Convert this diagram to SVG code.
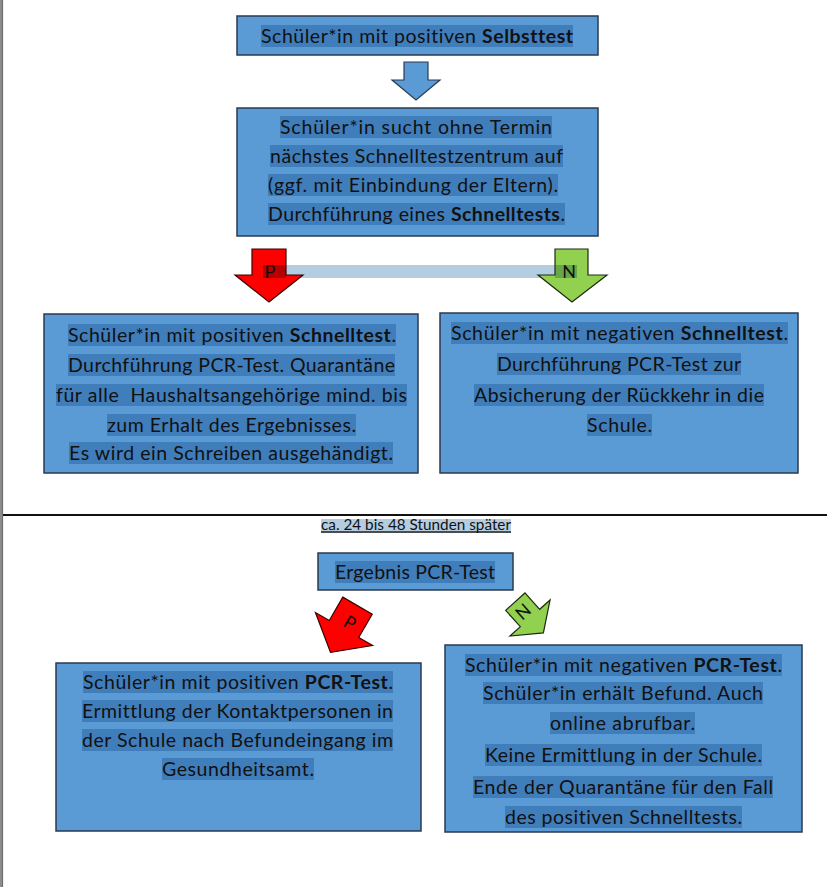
<svg xmlns="http://www.w3.org/2000/svg" width="827" height="887" viewBox="0 0 827 887">
<style>
  .box { fill: #5b9bd5; stroke: #2b3a4f; stroke-width: 1.5; }
  .hl { fill: #407dbb; }
  .t { font-family: Lato, "Open Sans", sans-serif; font-size: 19.5px; fill: #111111; text-anchor: middle; font-variant-ligatures: none; }
  .b { font-weight: bold; }
  .lbl { font-family: Lato, "Open Sans", sans-serif; font-size: 18px; fill: #111111; text-anchor: middle; }
</style>
<rect x="0" y="0" width="827" height="887" fill="#ffffff"/>
<!-- page edge and divider -->
<rect x="0" y="0" width="2" height="887" fill="#8c8c8c"/>
<line x1="2.6" y1="0" x2="2.6" y2="887" stroke="#333333" stroke-width="0.8"/>
<line x1="3" y1="515" x2="827" y2="515" stroke="#111111" stroke-width="2"/>

<g id="connectors">
  <!-- blue down arrow -->
  <polygon points="404,62 428,62 428,80 440,80 416,100 392,80 404,80" fill="#5b9bd5" stroke="#2b3a4f" stroke-width="1.2"/>
  <!-- light bar between P and N -->
  <rect x="286" y="265" width="269" height="13" fill="#b4cde0"/>
  <!-- P arrow (red) -->
  <polygon points="252,249 286,249 286,275 303,275 269,302 235,275 252,275" fill="#ff0000"/>
  <rect x="263" y="265" width="23" height="13" fill="#b40000"/>
  <polygon points="252,249 286,249 286,275 303,275 269,302 235,275 252,275" fill="none" stroke="#3a0000" stroke-width="1.2"/>
  <text class="lbl" x="270" y="278">P</text>
  <!-- N arrow (green) -->
  <polygon points="555,249 588,249 588,275 607,275 572,302 538,275 555,275" fill="#92d050"/>
  <rect x="555" y="265" width="22" height="13" fill="#67a746"/>
  <polygon points="555,249 588,249 588,275 607,275 572,302 538,275 555,275" fill="none" stroke="#1e2a10" stroke-width="1.2"/>
  <text class="lbl" x="569" y="278">N</text>
  <!-- rotated P arrow -->
  <g transform="translate(344,629) rotate(30)">
    <polygon points="-17,-27 17,-27 17,0 33,0 0,27 -33,0 -17,0" fill="#ff0000" stroke="#3a0000" stroke-width="1.2"/>
    <text class="lbl" x="2" y="-2" font-size="16">P</text>
  </g>
  <!-- rotated N arrow -->
  <g transform="translate(530,618) rotate(-42)">
    <polygon points="-13,-22 13,-22 13,0 27,0 0,20 -27,0 -13,0" fill="#92d050" stroke="#1e2a10" stroke-width="1.2"/>
    <text class="lbl" x="-1" y="-3" font-size="15">N</text>
  </g>
</g>

<g id="n1">
  <rect class="box" x="237" y="16" width="361" height="39"/>
  <rect class="hl" x="261" y="25" width="312" height="22"/>
  <text class="t" x="417" y="43" textLength="312">Schüler*in mit positiven <tspan class="b">Selbsttest</tspan></text>
</g>

<g id="n2">
  <rect class="box" x="237" y="108" width="361" height="128"/>
  <rect class="hl" x="280" y="116" width="272" height="22"/>
  <text class="t" x="416" y="134" textLength="272">Schüler*in sucht ohne Termin</text>
  <rect class="hl" x="270" y="145" width="293" height="22"/>
  <text class="t" x="416.5" y="163" textLength="293">nächstes Schnelltestzentrum auf</text>
  <rect class="hl" x="268" y="174" width="290" height="22"/>
  <text class="t" x="413" y="192" textLength="290">(ggf. mit Einbindung der Eltern).</text>
  <rect class="hl" x="268" y="203" width="297" height="22"/>
  <text class="t" x="416.5" y="221" textLength="297">Durchführung eines <tspan class="b">Schnelltests</tspan>.</text>
</g>

<g id="n3">
  <rect class="box" x="44" y="314" width="374" height="159"/>
  <rect class="hl" x="68" y="324" width="328" height="22"/>
  <text class="t" x="232" y="342" textLength="328">Schüler*in mit positiven <tspan class="b">Schnelltest</tspan>.</text>
  <rect class="hl" x="68" y="354" width="327" height="22"/>
  <text class="t" x="231.5" y="372" textLength="327">Durchführung PCR-Test. Quarantäne</text>
  <rect class="hl" x="56" y="384" width="351" height="22"/>
  <text class="t" x="231.5" y="402" textLength="351" xml:space="preserve">für alle  Haushaltsangehörige mind. bis</text>
  <rect class="hl" x="107" y="414" width="249" height="22"/>
  <text class="t" x="231.5" y="432" textLength="249">zum Erhalt des Ergebnisses.</text>
  <rect class="hl" x="69" y="442" width="324" height="22"/>
  <text class="t" x="231" y="460" textLength="324">Es wird ein Schreiben ausgehändigt.</text>
</g>

<g id="n4">
  <rect class="box" x="440" y="313" width="358" height="160"/>
  <rect class="hl" x="451" y="322" width="337" height="22"/>
  <text class="t" x="619.5" y="340" textLength="337">Schüler*in mit negativen <tspan class="b">Schnelltest</tspan>.</text>
  <rect class="hl" x="497" y="353" width="244" height="22"/>
  <text class="t" x="619" y="371" textLength="244">Durchführung PCR-Test zur</text>
  <rect class="hl" x="474" y="384" width="290" height="22"/>
  <text class="t" x="619" y="402" textLength="290">Absicherung der Rückkehr in die</text>
  <rect class="hl" x="587" y="414" width="65" height="22"/>
  <text class="t" x="619.5" y="432" textLength="65">Schule.</text>
</g>

<g id="n5">
  <rect x="321" y="519" width="190" height="12" fill="#b4cde0"/>
  <text x="416" y="530" font-family="Lato, 'Open Sans', sans-serif" font-size="14.5" fill="#111111" text-anchor="middle" textLength="190" lengthAdjust="spacingAndGlyphs">ca. 24 bis 48 Stunden später</text>
  <line x1="321" y1="532" x2="511" y2="532" stroke="#111111" stroke-width="1.3"/>
</g>

<g id="n6">
  <rect class="box" x="318" y="553" width="195" height="37"/>
  <rect class="hl" x="335" y="561" width="160" height="22"/>
  <text class="t" x="415" y="579" textLength="160">Ergebnis PCR-Test</text>
</g>

<g id="n7">
  <rect class="box" x="56" y="663" width="365" height="168"/>
  <rect class="hl" x="83" y="671" width="310" height="22"/>
  <text class="t" x="238" y="689" textLength="310">Schüler*in mit positiven <tspan class="b">PCR-Test</tspan>.</text>
  <rect class="hl" x="82" y="700" width="311" height="22"/>
  <text class="t" x="237.5" y="718" textLength="311">Ermittlung der Kontaktpersonen in</text>
  <rect class="hl" x="82" y="729" width="311" height="22"/>
  <text class="t" x="237.5" y="747" textLength="311">der Schule nach Befundeingang im</text>
  <rect class="hl" x="162" y="758" width="152" height="22"/>
  <text class="t" x="238" y="776" textLength="152">Gesundheitsamt.</text>
</g>

<g id="n8">
  <rect class="box" x="445" y="645" width="357" height="187"/>
  <rect class="hl" x="465" y="654" width="317" height="22"/>
  <text class="t" x="623.5" y="672" textLength="317">Schüler*in mit negativen <tspan class="b">PCR-Test</tspan>.</text>
  <rect class="hl" x="483" y="682" width="280" height="22"/>
  <text class="t" x="623" y="700" textLength="280">Schüler*in erhält Befund. Auch</text>
  <rect class="hl" x="550" y="712" width="145" height="22"/>
  <text class="t" x="622.5" y="730" textLength="145">online abrufbar.</text>
  <rect class="hl" x="485" y="744" width="277" height="22"/>
  <text class="t" x="623.5" y="762" textLength="277">Keine Ermittlung in der Schule.</text>
  <rect class="hl" x="473" y="776" width="300" height="22"/>
  <text class="t" x="623" y="794" textLength="300">Ende der Quarantäne für den Fall</text>
  <rect class="hl" x="505" y="806" width="237" height="22"/>
  <text class="t" x="623.5" y="824" textLength="237">des positiven Schnelltests.</text>
</g>
</svg>
